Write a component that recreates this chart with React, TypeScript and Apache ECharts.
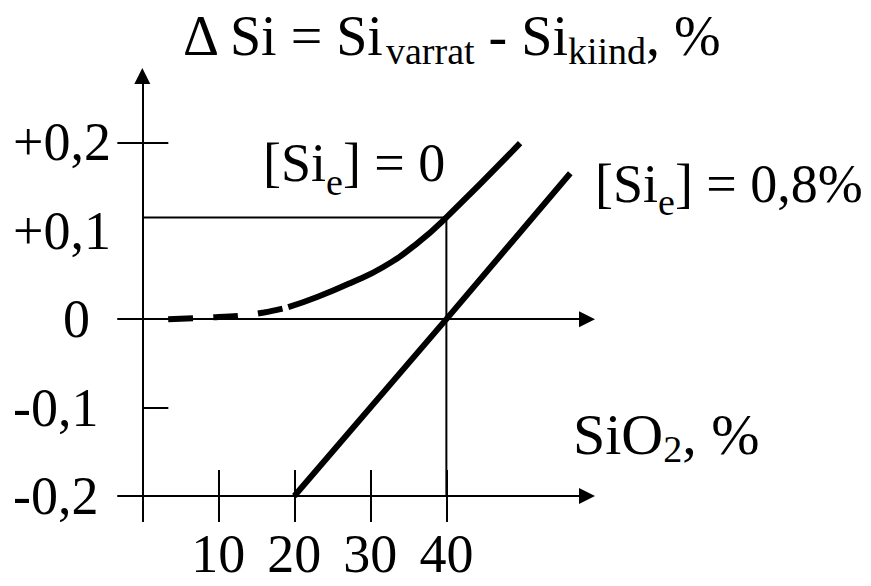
import React, { useEffect, useRef } from 'react';
import * as echarts from 'echarts';

const FONT = '"Liberation Serif", "Times New Roman", serif';

// Axis ticks / labels
const xTickLabels = [10, 20, 30, 40];
const xTickMarks = [0, 10, 20, 30, 40];
const yLabelValues = [-0.2, -0.1, 0, 0.1, 0.2];
const yLabelTexts = ['-0,2', '-0,1', '0', '+0,1', '+0,2'];
const yTicksInside = [-0.1, 0.2];
const yTicksOutside = [0.2];

// [Si_e] = 0 curve: dashed start, solid continuation
const curveDashed = [
  [3.4, 0],
  [9, 0.002],
  [13, 0.004],
  [16, 0.0075],
  [19.2, 0.0135],
];
const curveSolid = [
  [19.2, 0.0135],
  [23, 0.025],
  [27.4, 0.041],
  [31.7, 0.059],
  [36.2, 0.086],
  [40, 0.115],
  [49.7, 0.199],
];
// [Si_e] = 0,8 % line
const line08 = [
  [20, -0.2],
  [40, 0],
  [56.3, 0.165],
];
// thin reading lines
const guide = [
  [0, 0.115],
  [40, 0.115],
  [40, -0.2],
];

const X_MIN = -3.2;
const X_MAX = 58.5;
const Y_MIN = -0.2;
const Y_MAX = 0.275;

function richText(x: number, y: number, text: string, main: number, sub: number, subPad: number) {
  return {
    type: 'text', x, y,
    style: {
      text,
      align: 'left', verticalAlign: 'middle', textAlign: 'left', textVerticalAlign: 'middle',
      fill: '#000', fontFamily: FONT, fontSize: main,
      rich: {
        m: { fontFamily: FONT, fontSize: main, fill: '#000', color: '#000' },
        s: { fontFamily: FONT, fontSize: sub, fill: '#000', color: '#000', lineHeight: 20, padding: [subPad, 0, 0, 0] },
      },
    },
  };
}

export default function App() {
  const ref = useRef<HTMLDivElement>(null);
  useEffect(() => {
    document.body.style.margin = '0';
    const chart = echarts.init(ref.current!, null, { renderer: 'svg' });
    const axisLineStyle = { color: '#000', width: 2 };
    const labelFont = { fontFamily: FONT, fontSize: 54, color: '#000' };
    const option: any = {
      animation: false,
      backgroundColor: '#fff',
      grid: { left: 118, right: 284, top: 76, bottom: 90, containLabel: false, outerBoundsMode: 'none' },
      xAxis: [
        {
          type: 'value', min: X_MIN, max: X_MAX, position: 'bottom',
          splitLine: { show: false },
          axisLine: { show: true, onZero: false, symbol: ['none', 'triangle'], symbolSize: [16, 16], lineStyle: axisLineStyle },
          axisTick: { show: true, inside: false, length: 26, customValues: xTickMarks, lineStyle: axisLineStyle },
          axisLabel: { show: true, customValues: xTickLabels, margin: 38, lineHeight: 40, ...labelFont },
        },
        {
          type: 'value', min: X_MIN, max: X_MAX, position: 'bottom',
          splitLine: { show: false },
          axisLine: { show: true, onZero: true, onZeroAxisIndex: 0, symbol: ['none', 'triangle'], symbolSize: [16, 16], lineStyle: axisLineStyle },
          axisTick: { show: false },
          axisLabel: { show: false },
        },
        {
          type: 'value', min: X_MIN, max: X_MAX, position: 'bottom',
          splitLine: { show: false },
          axisLine: { show: false, onZero: false },
          axisTick: { show: true, inside: true, length: 26, customValues: xTickLabels, lineStyle: axisLineStyle },
          axisLabel: { show: false },
        },
      ],
      yAxis: [
        {
          type: 'value', min: Y_MIN, max: Y_MAX, position: 'left',
          splitLine: { show: false },
          axisLine: { show: true, onZero: true, onZeroAxisIndex: 0, symbol: ['none', 'triangle'], symbolSize: [16, 16], lineStyle: axisLineStyle },
          axisTick: { show: true, inside: true, length: 26, customValues: yTicksInside, lineStyle: axisLineStyle },
          axisLabel: {
            show: true, customValues: yLabelValues, align: 'left', margin: 105, ...labelFont,
            formatter: (v: number) => {
              const i = yLabelValues.findIndex((t) => Math.abs(t - v) < 1e-9);
              const t = i >= 0 ? yLabelTexts[i] : String(v);
              return Math.abs(v) < 1e-9 ? '{z|' + t + '}' : t;
            },
            rich: { z: { fontFamily: FONT, fontSize: 54, color: '#000', padding: [0, 0, 0, 50] } },
          },
        },
        {
          type: 'value', min: Y_MIN, max: Y_MAX, position: 'left',
          splitLine: { show: false },
          axisLine: { show: false, onZero: true, onZeroAxisIndex: 0 },
          axisTick: { show: true, inside: false, length: 25, customValues: yTicksOutside, lineStyle: axisLineStyle },
          axisLabel: { show: false },
        },
      ],
      series: [
        {
          type: 'line', data: guide, symbol: 'none', silent: true,
          lineStyle: { color: '#000', width: 2 },
        },
        {
          type: 'line', data: line08, symbol: 'none', silent: true,
          lineStyle: { color: '#000', width: 6 },
        },
        {
          type: 'line', data: curveSolid, symbol: 'none', smooth: 0.5, silent: true,
          lineStyle: { color: '#000', width: 6 },
        },
        {
          type: 'line', data: curveDashed, symbol: 'none', smooth: 0.4, silent: true,
          lineStyle: { color: '#000', width: 6, type: [25, 20], cap: 'butt' },
        },
      ],
      graphic: [
        richText(183, 36, '{m|\u0394 Si = Si}{s|varrat}{m| - Si}{s|kiind}{m|, %}', 56, 38, 29),
        richText(263, 163, '{m|[Si}{s|e}{m|] = 0}', 54, 38, 38),
        richText(595, 184, '{m|[Si}{s|e}{m|] = 0,8%}', 54, 38, 35),
        richText(573, 434, '{m|SiO}{s|2}{m|, %}', 58, 38, 30),
      ],
    };
    chart.setOption(option);
    return () => chart.dispose();
  }, []);
  return (
    <div
      ref={ref}
      style={{ position: 'absolute', left: 0, top: 0, width: 871, height: 586, background: '#fff' }}
    />
  );
}
